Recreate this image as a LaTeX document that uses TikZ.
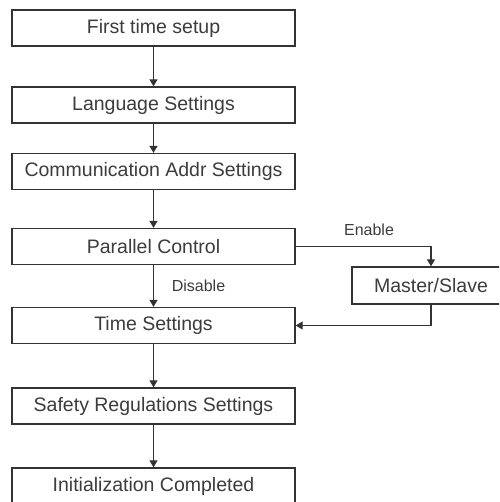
\documentclass[tikz,border=0pt]{standalone}
\usepackage{fontspec}
\setmainfont{Liberation Sans}
\usetikzlibrary{arrows.meta}
\definecolor{linec}{HTML}{333333}
\definecolor{textc}{HTML}{3C3C3C}
\begin{document}
\begin{tikzpicture}[x=1pt,y=-1pt,
  box/.style={draw=linec,line width=1.3pt,fill=white,minimum width=283pt,minimum height=36pt,inner sep=0pt,
    font=\fontsize{19.5}{22}\selectfont,text=textc},
  sbox/.style={box,minimum width=158pt,minimum height=37pt},
  lbl/.style={font=\fontsize{16}{18}\selectfont,text=textc,inner sep=0pt},
  conn/.style={draw=linec,line width=1.2pt,-{Triangle[length=7pt,width=8pt]}}]
\useasboundingbox (0,0) rectangle (499,502);
\clip (0,0) rectangle (499,502);
\node[box] (fs) at (153.5,28) {First time setup};
\node[box] (ls) at (153.5,105) {Language Settings};
\node[box] (ca) at (153.5,171.5) {Communication Addr Settings};
\node[box] (pc) at (153.5,246.5) {Parallel Control};
\node[box] (ts) at (153.5,325.5) {Time Settings};
\node[box] (sr) at (153.5,406) {Safety Regulations Settings};
\node[box] (ic) at (153.5,486) {Initialization Completed};
\node[sbox] (ms) at (431,285.5) {Master/Slave};
\node[lbl] (en) at (369,229.5) {Enable};
\node[lbl] (di) at (198.5,286) {Disable};
\draw[conn] (fs) -- (ls);
\draw[conn] (ls) -- (ca);
\draw[conn] (ca) -- (pc);
\draw[conn] (pc) -- (ts);
\draw[conn] (ts) -- (sr);
\draw[conn] (sr) -- (ic);
\draw[conn] (pc.east) -| (ms.north);
\draw[conn] (ms.south) |- (ts.east);
\end{tikzpicture}
\end{document}
